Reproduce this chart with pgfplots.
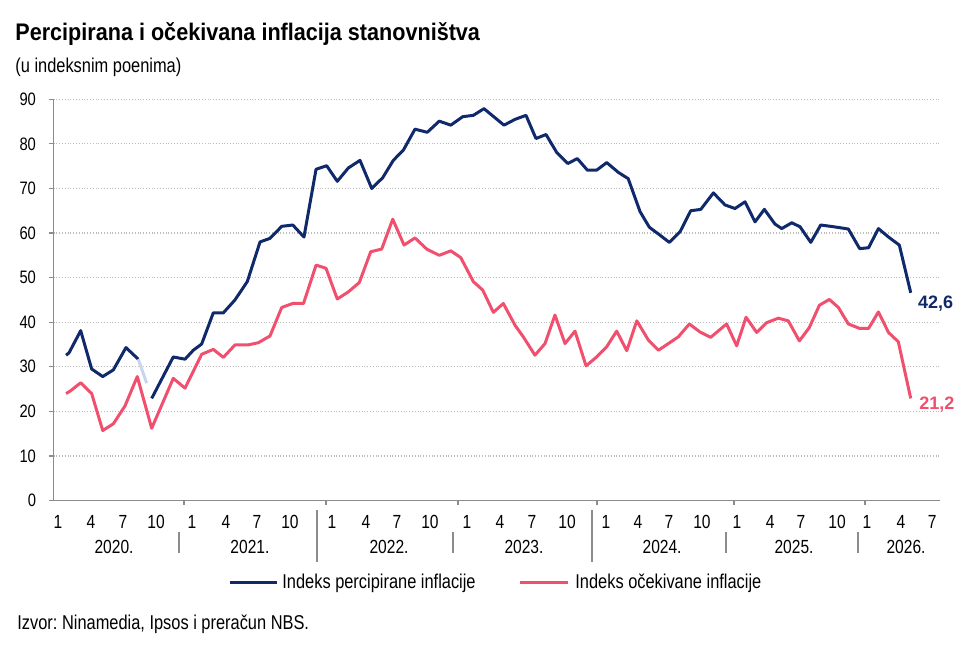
\documentclass[border=0pt]{standalone}
\usepackage{pgfplots}
\pgfplotsset{compat=1.18}
\usepackage{fontspec}
\setmainfont{Liberation Sans}[FakeStretch=0.82]
\newfontfamily\titlefont{Liberation Sans}[FakeStretch=0.9]
\newfontfamily\numfont{Liberation Sans}
\definecolor{navy}{HTML}{10296B}
\definecolor{pinkred}{HTML}{F0506E}
\definecolor{axgray}{HTML}{8C8C8C}
\definecolor{gridgray}{HTML}{BDBDBD}
\definecolor{fadeblue}{HTML}{C9D5EC}
\frenchspacing
\begin{document}
\begin{tikzpicture}[x=0.5pt,y=0.5pt]
\path[use as bounding box] (0,0) rectangle (970,647);
\node[anchor=base west, inner sep=0, font=\titlefont\bfseries\fontsize{12}{14}\selectfont] at (15,606.3) {Percipirana i očekivana inflacija stanovništva};
\node[anchor=base west, inner sep=0, font=\fontsize{10}{12}\selectfont] at (15,574.3) {(u indeksnim poenima)};
\node[anchor=base west, inner sep=0, font=\fontsize{10}{12}\selectfont] at (17,17.7) {Izvor: Ninamedia, Ipsos i preračun NBS.};
% legend
\draw[navy, line width=1.5pt] (230,64) -- (277,64);
\node[anchor=west, inner sep=0, font=\fontsize{10}{12}\selectfont] at (282,64) {Indeks percipirane inflacije};
\draw[pinkred, line width=1.5pt] (520,64) -- (568,64);
\node[anchor=west, inner sep=0, font=\fontsize{10}{12}\selectfont] at (575,64) {Indeks očekivane inflacije};

\begin{axis}[
  at={(29pt,73.25pt)}, anchor=origin,
  scale only axis, width=443.25pt, height=200.6pt,
  xmin=-0.4, xmax=78.89, ymin=0, ymax=90,
  axis x line=bottom, axis y line=left,
  axis line style={draw=axgray, line width=0.6pt, -},
  clip=false,
  /pgf/number format/assume math mode=true,
  ytick={0,10,...,90},
  ymajorgrids, grid style={densely dotted, gridgray, line width=0.6pt},
  tick align=outside, major tick length=2.5pt,
  ytick style={draw=axgray, line width=0.6pt},
  xtick style={draw=none},
  yticklabel style={font=\fontsize{9}{11}\selectfont, anchor=east, xshift=-2.75pt},
  xticklabel style={font=\fontsize{9.5}{11}\selectfont, anchor=base, yshift=-11.7pt},
  xtick={0,2.95,5.81,8.77, 11.99,15.03,17.8,20.75, 24.51,27.55,30.32,33.27, 36.58,39.53,42.4,45.53, 49.02,51.88,54.65,57.6, 60.73,63.69,66.46,69.68, 72.36,75.4,78.18},
  xticklabels={1,4,7,10, 1,4,7,10, 1,4,7,10, 1,4,7,10, 1,4,7,10, 1,4,7,10, 1,4,7},
]
\addplot[navy, line width=1.5pt, line join=round] coordinates {
(0.72,32.6) (0.98,33.1) (2.03,38.1) (3.01,29.5) (4.0,27.8) (4.95,29.3) (6.08,34.3) (7.18,31.7)
};
\addplot[pinkred, line width=1.5pt, line join=round] coordinates {
(0.72,24.0) (1.01,24.4) (2.03,26.4) (3.01,24.0) (4.0,15.7) (4.95,17.2) (5.99,21.2) (7.09,27.8)
(8.38,16.2) (10.31,27.4) (11.36,25.2) (12.85,32.8) (13.89,33.9) (14.79,32.1) (15.83,34.9)
(17.0,34.9) (17.92,35.4) (18.96,36.9) (20.01,43.3) (21.0,44.2) (21.96,44.2) (23.08,52.8)
(23.97,52.1) (24.98,45.2) (25.97,46.8) (26.95,48.9) (27.97,55.8) (28.95,56.4) (29.94,63.1)
(30.95,57.3) (31.93,58.9) (32.98,56.4) (34.1,55.0) (35.13,56.0) (36.02,54.5) (37.15,49.1)
(37.99,47.2) (38.94,42.2) (39.83,44.2) (40.88,39.3) (41.62,36.7) (42.66,32.6) (43.56,35.2)
(44.45,41.6) (45.35,35.2) (46.24,38.0) (47.23,30.2) (48.18,32.2) (49.08,34.5) (49.97,38.0)
(50.87,33.6) (51.77,40.3) (52.8,36.0) (53.7,33.7) (54.59,35.2) (55.48,36.7) (56.47,39.6)
(57.42,37.8) (58.38,36.6) (59.8,39.6) (60.7,34.7) (61.54,41.1) (62.49,37.7) (63.39,39.9)
(64.43,40.9) (65.32,40.3) (66.31,35.8) (67.2,38.8) (68.1,43.8) (68.99,45.1) (69.8,43.3)
(70.69,39.6) (71.7,38.6) (72.5,38.6) (73.38,42.3) (74.28,37.7) (75.16,35.6) (76.27,22.9)
};
\addplot[fadeblue, line width=1.5pt] coordinates {(7.18,31.7) (7.93,26.3)};
\addplot[navy, line width=1.5pt, line join=round] coordinates {
(8.38,22.9) (10.31,32.2) (11.36,31.7) (12.1,33.7) (12.85,35.1) (13.89,42.1) (14.79,42.1)
(15.83,45.0) (16.93,49.1) (18.07,58.0) (18.96,58.8) (20.01,61.5) (21.0,61.8) (22.0,59.1)
(23.08,74.3) (24.03,75.1) (24.98,71.6) (25.97,74.6) (27.01,76.3) (28.06,70.0) (29.04,72.4)
(29.99,76.3) (30.89,78.6) (31.93,83.3) (33.03,82.6) (34.1,85.1) (35.13,84.2) (36.2,86.1)
(37.15,86.4) (38.1,87.9) (39.89,84.2) (40.88,85.5) (41.86,86.4) (42.75,81.2) (43.65,82.1)
(44.6,78.1) (45.6,75.6) (46.45,76.7) (47.35,74.1) (48.18,74.1) (49.08,75.8) (50.12,73.6)
(51.0,72.2) (52.06,64.8) (52.89,61.3) (53.8,59.6) (54.68,57.9) (55.64,60.3) (56.59,65.0)
(57.49,65.3) (58.62,69.0) (59.66,66.3) (60.55,65.5) (61.45,67.0) (62.34,62.5) (63.18,65.3)
(64.13,62.0) (64.73,61.0) (65.63,62.3) (66.37,61.4) (67.33,57.9) (68.22,61.8) (69.4,61.4)
(70.69,60.9) (71.7,56.5) (72.5,56.7) (73.38,61.0) (74.28,59.1) (75.25,57.3) (76.27,46.6)
};
% year tick marks
\pgfplotsinvokeforeach{11.27,23.97,35.78,48.21,60.47,72.18}{
  \draw[axgray, line width=0.6pt] (axis cs:#1,0) -- ([yshift=-2.5pt]axis cs:#1,0);
}
% year separators
\pgfplotsinvokeforeach{10.82,35.33,59.75,71.56}{
  \draw[axgray, line width=0.6pt] ([yshift=-15.75pt]axis cs:#1,0) -- ([yshift=-26.25pt]axis cs:#1,0);
}
\pgfplotsinvokeforeach{23.17,47.76}{
  \draw[axgray, line width=0.6pt] ([yshift=-4.75pt]axis cs:#1,0) -- ([yshift=-30.75pt]axis cs:#1,0);
}
% year labels
\node[anchor=base, inner sep=0, font=\fontsize{9.5}{11}\selectfont] at ([yshift=-26.4pt]axis cs:5.01,0) {2020.};
\node[anchor=base, inner sep=0, font=\fontsize{9.5}{11}\selectfont] at ([yshift=-26.4pt]axis cs:17.17,0) {2021.};
\node[anchor=base, inner sep=0, font=\fontsize{9.5}{11}\selectfont] at ([yshift=-26.4pt]axis cs:29.61,0) {2022.};
\node[anchor=base, inner sep=0, font=\fontsize{9.5}{11}\selectfont] at ([yshift=-26.4pt]axis cs:41.68,0) {2023.};
\node[anchor=base, inner sep=0, font=\fontsize{9.5}{11}\selectfont] at ([yshift=-26.4pt]axis cs:54.03,0) {2024.};
\node[anchor=base, inner sep=0, font=\fontsize{9.5}{11}\selectfont] at ([yshift=-26.4pt]axis cs:65.83,0) {2025.};
\node[anchor=base, inner sep=0, font=\fontsize{9.5}{11}\selectfont] at ([yshift=-26.4pt]axis cs:75.85,0) {2026.};
\node[font=\numfont\bfseries\fontsize{9}{11}\selectfont, text=navy] at (axis cs:78.5,44.06) {42,6};
\node[font=\numfont\bfseries\fontsize{9}{11}\selectfont, text=pinkred] at (axis cs:78.6,21.4) {21,2};
\end{axis}
\end{tikzpicture}
\end{document}
